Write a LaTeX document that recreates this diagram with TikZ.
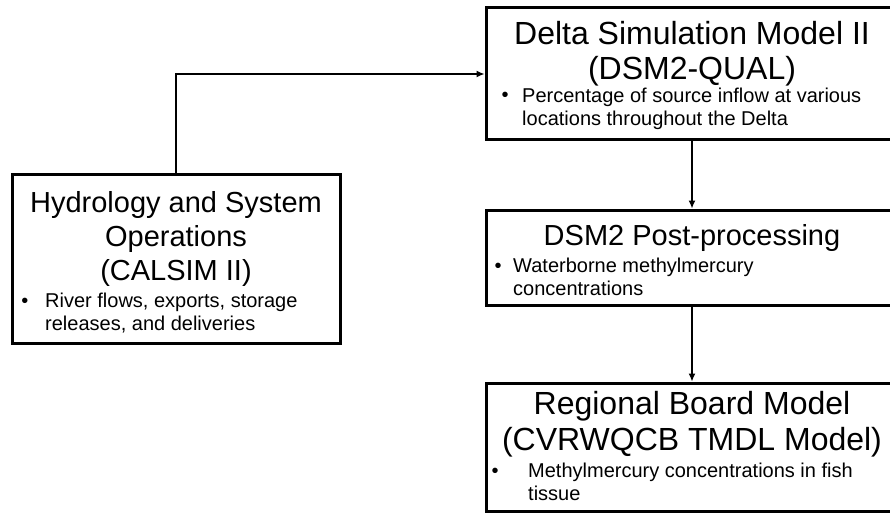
\documentclass[tikz,border=0pt]{standalone}
\usepackage{fontspec}
\setmainfont{Liberation Sans}
\usetikzlibrary{arrows.meta, positioning}

\begin{document}
\begin{tikzpicture}[x=1pt, y=-1pt,
  modelbox/.style={draw, line width=3pt, rectangle, inner sep=0pt},
  heading/.style={anchor=north, align=center, inner sep=0pt},
  bulletdot/.style={anchor=base, inner sep=0pt, font=\fontsize{20}{23}\selectfont},
  bullettext/.style={anchor=north west, align=left, inner sep=0pt, font=\fontsize{20}{23}\selectfont},
  flow/.style={-{Latex[length=8pt,width=7pt]}, line width=1.3pt}]
  \useasboundingbox (0,0) rectangle (890,513);
  \clip (0,0) rectangle (890,513);

  % Hydrology (CALSIM II)
  \node[modelbox, minimum width=328pt, minimum height=169pt] (calsim) at (176,258.5) {};
  \node[heading, font=\fontsize{29}{34}\selectfont] (calsimhead) at (176,191)
    {Hydrology and System\\Operations\\(CALSIM II)};
  \node[bulletdot] (calsimdot) at (25,307) {•};
  \node[bullettext] (calsimtext) at (45,293) {River flows, exports, storage\\releases, and deliveries};

  % DSM2-QUAL
  \node[modelbox, minimum width=412pt, minimum height=132pt] (delta) at (692,74) {};
  \node[heading, font=\fontsize{32}{35.5}\selectfont] (deltahead) at (692,21)
    {Delta Simulation Model II\\(DSM2-QUAL)};
  \node[bulletdot] (deltadot) at (505,102) {•};
  \node[bullettext] (deltatext) at (522,88) {Percentage of source inflow at various\\locations throughout the Delta};

  % Post-processing
  \node[modelbox, minimum width=412pt, minimum height=95pt] (post) at (692,257.5) {};
  \node[heading, font=\fontsize{29}{34}\selectfont] (posthead) at (692,224) {DSM2 Post-processing};
  \node[bulletdot] (postdot) at (498,272) {•};
  \node[bullettext] (posttext) at (513,258) {Waterborne methylmercury\\concentrations};

  % Regional Board
  \node[modelbox, minimum width=412pt, minimum height=128pt] (board) at (692,447) {};
  \node[heading, font=\fontsize{32}{36}\selectfont] (boardhead) at (692,391)
    {Regional Board Model\\(CVRWQCB TMDL Model)};
  \node[bulletdot] (boarddot) at (495,477) {•};
  \node[bullettext] (boardtext) at (528,463) {Methylmercury concentrations in fish\\tissue};

  % connectors
  \draw[flow] (calsim.north) |- (delta.west);
  \draw[flow] (delta.south) -- (post.north);
  \draw[flow] (post.south) -- (board.north);
\end{tikzpicture}
\end{document}
